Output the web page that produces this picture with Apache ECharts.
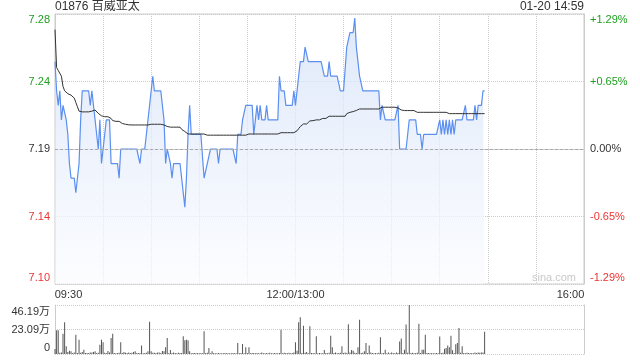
<!DOCTYPE html>
<html><head><meta charset="utf-8">
<script src="https://cdn.jsdelivr.net/npm/echarts@6/dist/echarts.min.js"></script>
<style>html,body{margin:0;padding:0;background:#fff}#c{width:640px;height:360px}</style>
</head><body><div id="c"></div>
<script>
// ---- data ----
const prevClose = 7.19;
const priceTicks = ['7.10', '7.14', '7.19', '7.24', '7.28'];
const pctTicks = ['-1.29%', '-0.65%', '0.00%', '+0.65%', '+1.29%'];
const volTicks = ['0', '23.09万', '46.19万'];
const timeTickPos = [0, 150, 330];
const timeTickLabels = ['09:30', '12:00/13:00', '16:00'];
const titleText = '01876 百威亚太';
const timeStamp = '01-20 14:59';

// minute-by-minute last price (09:30 ... 14:59)
const price = [
7.25,7.23,7.22,7.23,7.21,7.22,7.22,7.21,7.20,7.18,
7.17,7.17,7.17,7.16,7.16,7.18,7.21,7.23,7.23,7.23,
7.23,7.23,7.22,7.23,7.22,7.21,7.20,7.19,7.21,7.18,
7.19,7.20,7.21,7.21,7.21,7.18,7.18,7.18,7.18,7.18,
7.17,7.19,7.19,7.19,7.19,7.19,7.19,7.19,7.19,7.19,
7.19,7.19,7.19,7.18,7.19,7.19,7.19,7.20,7.20,7.22,
7.23,7.24,7.23,7.23,7.23,7.23,7.23,7.22,7.21,7.18,
7.19,7.19,7.18,7.17,7.18,7.18,7.18,7.18,7.18,7.17,
7.16,7.15,7.17,7.20,7.22,7.20,7.20,7.20,7.20,7.20,
7.20,7.20,7.20,7.17,7.17,7.18,7.18,7.19,7.19,7.19,
7.19,7.19,7.18,7.19,7.19,7.19,7.19,7.19,7.19,7.19,
7.19,7.19,7.19,7.18,7.20,7.20,7.20,7.21,7.21,7.22,
7.22,7.22,7.22,7.22,7.20,7.21,7.22,7.21,7.22,7.21,
7.21,7.21,7.22,7.21,7.21,7.21,7.21,7.21,7.21,7.21,
7.24,7.23,7.23,7.23,7.22,7.22,7.22,7.22,7.22,7.23,
7.22,7.22,7.24,7.25,7.25,7.25,7.26,7.26,7.25,7.25,
7.25,7.25,7.25,7.25,7.25,7.25,7.25,7.25,7.24,7.24,
7.24,7.25,7.24,7.24,7.24,7.24,7.24,7.24,7.23,7.23,
7.23,7.23,7.26,7.26,7.27,7.27,7.27,7.28,7.26,7.25,
7.24,7.24,7.23,7.23,7.23,7.23,7.23,7.23,7.23,7.23,
7.23,7.23,7.23,7.21,7.22,7.22,7.21,7.21,7.21,7.21,
7.21,7.21,7.21,7.21,7.22,7.19,7.19,7.19,7.19,7.19,
7.20,7.21,7.21,7.21,7.21,7.21,7.20,7.20,7.20,7.19,
7.20,7.20,7.20,7.20,7.20,7.20,7.20,7.20,7.20,7.20,
7.21,7.20,7.21,7.20,7.21,7.20,7.21,7.20,7.21,7.20,
7.21,7.21,7.21,7.21,7.21,7.21,7.22,7.21,7.21,7.21,
7.21,7.21,7.22,7.21,7.22,7.22,7.22,7.23,7.23
];

// minute-by-minute average price
const avgPrice = [
7.272,7.246,7.244,7.243,7.240,7.233,7.230,7.229,7.228,7.227,
7.227,7.226,7.225,7.222,7.219,7.216,7.2155,7.2155,7.2155,7.2155,
7.2155,7.2155,7.2155,7.216,7.2165,7.2168,7.216,7.2145,7.2134,7.2128,
7.2122,7.2122,7.2122,7.2122,7.2122,7.211,7.2095,7.209,7.209,7.209,
7.209,7.208,7.2075,7.207,7.207,7.2068,7.2066,7.2065,7.2065,7.2065,
7.2065,7.2065,7.2065,7.2065,7.2065,7.2065,7.2065,7.2065,7.2065,7.207,
7.207,7.207,7.207,7.207,7.207,7.207,7.207,7.207,7.2065,7.206,
7.2055,7.205,7.205,7.205,7.205,7.205,7.205,7.205,7.205,7.2035,
7.203,7.202,7.2008,7.2003,7.2003,7.2003,7.2003,7.2003,7.2003,7.2003,
7.2003,7.2003,7.2003,7.2003,7.1995,7.1995,7.1995,7.1995,7.1995,7.1995,
7.1995,7.1995,7.1995,7.1995,7.1995,7.1995,7.1995,7.1995,7.1995,7.1995,
7.1995,7.1995,7.1995,7.1995,7.1995,7.1995,7.1995,7.1995,7.1995,7.1995,
7.1995,7.2003,7.2003,7.2003,7.2003,7.2003,7.2003,7.2003,7.2003,7.2003,
7.2003,7.2003,7.2003,7.2003,7.2003,7.2003,7.2003,7.2003,7.2003,7.2003,
7.2012,7.2012,7.2012,7.2012,7.2012,7.2012,7.2012,7.2012,7.2012,7.2012,
7.2012,7.2025,7.204,7.2054,7.2065,7.2072,7.2072,7.2072,7.2072,7.2093,
7.2095,7.2095,7.210,7.210,7.210,7.210,7.210,7.211,7.211,7.211,
7.2118,7.2125,7.2125,7.2125,7.2125,7.2125,7.2125,7.2125,7.2125,7.2125,
7.2125,7.2125,7.2143,7.2148,7.2152,7.2155,7.2157,7.2158,7.2165,7.217,
7.2175,7.2175,7.2175,7.2175,7.2175,7.2175,7.2175,7.2175,7.2175,7.2175,
7.2175,7.2175,7.2175,7.2187,7.2187,7.2187,7.2187,7.2187,7.2187,7.2187,
7.2187,7.2187,7.2187,7.2187,7.2182,7.2173,7.2168,7.2164,7.2164,7.2164,
7.2164,7.2164,7.2164,7.2164,7.2164,7.2164,7.2152,7.2152,7.2152,7.2152,
7.2152,7.2152,7.2152,7.2152,7.2152,7.2152,7.2152,7.2152,7.2152,7.2152,
7.2152,7.2152,7.2152,7.2152,7.2152,7.2143,7.2143,7.2143,7.2143,7.2143,
7.2143,7.2143,7.2143,7.2143,7.2143,7.2143,7.2143,7.2143,7.2143,7.2143,
7.2143,7.2143,7.2143,7.2143,7.2143,7.2143,7.2143,7.2143,7.2143
];

// minute-by-minute volume, in 万 shares
const volume = [
4.7,22.3,22.3,1.2,1.5,19.2,29.9,7.2,1.8,3.0,
2.5,1.0,1.5,18.2,1.0,13.5,1.2,2.0,4.1,1.0,
1.0,1.0,1.4,1.5,1.8,2.5,1.0,1.2,8.8,13.5,
11.0,1.2,1.0,2.8,1.5,15.1,19.2,1.0,0.8,1.0,
1.2,11.0,1.0,2.0,1.2,1.0,1.5,1.0,1.2,1.8,
2.5,1.0,1.0,1.0,7.9,0.8,1.0,1.2,2.5,30.5,
2.5,1.2,1.2,1.0,1.5,1.5,1.0,2.8,2.5,6.3,
15.1,1.0,3.8,1.0,1.5,1.0,0.8,1.2,1.0,1.0,
16.7,12.9,13.5,12.9,2.5,0.8,1.0,1.0,0.8,1.0,
0.8,1.0,0.8,21.4,1.0,1.2,5.7,0.8,2.5,1.0,
0.8,0.6,1.0,0.8,0.6,0.8,1.0,0.6,0.8,0.6,
0.8,1.0,0.6,0.8,10.4,0.8,1.0,9.4,0.8,6.3,
1.0,6.3,0.8,1.0,1.0,0.8,1.0,0.6,0.8,1.5,
0.8,0.6,1.0,0.8,1.2,0.6,0.8,1.0,0.6,0.8,
1.0,22.9,0.8,1.2,1.0,0.8,1.2,0.6,1.0,1.5,
11.0,3.0,29.9,34.6,1.0,26.7,1.2,2.0,0.8,26.1,
1.0,1.0,0.8,16.7,0.8,1.0,0.6,0.8,3.8,1.0,
0.8,1.2,17.3,6.3,1.0,1.5,0.8,1.0,1.2,7.2,
1.0,1.5,1.0,28.0,1.5,3.8,3.1,1.2,1.0,6.3,
32.4,1.0,1.2,2.5,10.4,1.0,7.9,1.5,1.0,0.8,
1.0,0.8,1.2,15.7,0.8,1.0,4.1,0.8,1.5,0.8,
1.5,1.0,0.8,1.5,1.0,11.9,14.5,1.0,4.1,27.7,
1.2,46.19,1.0,1.2,0.8,1.0,1.2,28.6,1.0,4.1,
4.1,18.2,1.0,1.0,0.8,1.0,0.6,0.8,1.0,0.8,
16.4,1.0,1.2,5.0,5.7,7.9,6.3,17.3,3.5,1.0,
9.1,10.4,24.5,1.2,7.2,1.0,0.8,1.2,1.0,0.8,
1.0,0.8,1.5,1.0,1.5,1.2,1.5,1.5,21.0
];

// ---- chart ----
const FONT = '"Liberation Sans", Arial, "Noto Sans CJK SC", sans-serif';
const GREEN = '#1f9e1f', RED = '#ee3333', DARK = '#333';
const PCT_MAX = 1.29, PCT_INT = 0.645;
const VOL_MAX = 46.19, VOL_INT = 23.095;
const toPct = p => (p / prevClose - 1) * 100;
const pctIdx = v => Math.round((v + PCT_MAX) / PCT_INT);
const styleKey = ['rb', 'r', 'k', 'g', 'gt'];

const rich = {
  gt: { color: GREEN, padding: [12, 0, 0, 0], fontSize: 11, fontFamily: FONT },
  g: { color: GREEN, fontSize: 11, fontFamily: FONT },
  k: { color: DARK, fontSize: 11, fontFamily: FONT },
  r: { color: RED, fontSize: 11, fontFamily: FONT },
  rb: { color: RED, padding: [0, 0, 12, 0], fontSize: 11, fontFamily: FONT },
  vt: { color: DARK, padding: [13, 0, 0, 0], fontSize: 11, fontFamily: FONT },
  vm: { color: DARK, fontSize: 11, fontFamily: FONT },
  vb: { color: DARK, padding: [0, 0, 12, 0], fontSize: 11, fontFamily: FONT },
  tl: { color: DARK, padding: [0, 0, 0, 27], fontSize: 11, fontFamily: FONT },
  tc: { color: DARK, fontSize: 11, fontFamily: FONT },
  tr: { color: DARK, padding: [0, 27, 0, 0], fontSize: 11, fontFamily: FONT }
};

const chart = echarts.init(document.getElementById('c'), null, { renderer: 'canvas' });
chart.setOption({
  animation: false,
  backgroundColor: '#fff',
  textStyle: { fontFamily: FONT },
  title: [
    { text: titleText, left: 55, top: 1, padding: 0,
      textStyle: { fontSize: 12, fontWeight: 'normal', color: DARK, fontFamily: FONT } },
    { text: timeStamp, right: 56, top: 1, padding: 0,
      textStyle: { fontSize: 12, fontWeight: 'normal', color: DARK, fontFamily: FONT } }
  ],
  graphic: [
    { type: 'text', left: 532, top: 272, silent: true,
      style: { text: 'sina.com', fill: '#c8c8c8', font: '11px ' + FONT } }
  ],
  grid: [
    { left: 55, right: 56, top: 14, height: 270, show: true, borderColor: '#ccc', borderWidth: 1 },
    { left: 55, right: 56, top: 305, height: 49 }
  ],
  xAxis: [
    { type: 'value', gridIndex: 0, min: 0, max: 330, interval: 30,
      axisLine: { show: true, lineStyle: { color: '#ccc' } },
      axisTick: { show: false },
      splitLine: { show: true, lineStyle: { color: '#ccc', type: 'dotted' } },
      axisLabel: { margin: 5, rich: rich,
        formatter: v => {
          const i = timeTickPos.indexOf(Math.round(v));
          if (i < 0) return '';
          return '{' + ['tl', 'tc', 'tr'][i] + '|' + timeTickLabels[i] + '}';
        } } },
    { type: 'value', gridIndex: 1, min: 0, max: 330, interval: 30,
      axisLine: { show: false }, axisTick: { show: false },
      splitLine: { show: false }, axisLabel: { show: false } }
  ],
  yAxis: [
    { type: 'value', gridIndex: 0, position: 'left', min: -PCT_MAX, max: PCT_MAX, interval: PCT_INT,
      axisLine: { show: true, lineStyle: { color: '#ccc' } }, axisTick: { show: false },
      splitLine: { show: true, lineStyle: { color: '#ccc', type: 'dotted' } },
      axisLabel: { margin: 5, rich: rich,
        formatter: v => { const i = pctIdx(v); return '{' + styleKey[i] + '|' + priceTicks[i] + '}'; } } },
    { type: 'value', gridIndex: 0, position: 'right', min: -PCT_MAX, max: PCT_MAX, interval: PCT_INT,
      axisLine: { show: true, lineStyle: { color: '#ccc' } }, axisTick: { show: false },
      splitLine: { show: false },
      axisLabel: { margin: 6, rich: rich,
        formatter: v => { const i = pctIdx(v); return '{' + styleKey[i] + '|' + pctTicks[i] + '}'; } } },
    { type: 'value', gridIndex: 1, position: 'left', min: 0, max: VOL_MAX, interval: VOL_INT,
      axisLine: { show: true, lineStyle: { color: '#ccc' } }, axisTick: { show: false },
      splitLine: { show: true, lineStyle: { color: '#ccc', type: 'dotted' } },
      axisLabel: { margin: 5, rich: rich,
        formatter: v => { const i = Math.round(v / VOL_INT); return '{' + ['vb', 'vm', 'vt'][i] + '|' + volTicks[i] + '}'; } } },
    { type: 'value', gridIndex: 1, position: 'right', min: 0, max: VOL_MAX, interval: VOL_INT,
      axisLine: { show: true, lineStyle: { color: '#ccc' } }, axisTick: { show: false },
      splitLine: { show: false }, axisLabel: { show: false } }
  ],
  series: [
    { name: 'price', type: 'line', xAxisIndex: 0, yAxisIndex: 0,
      data: price.map((p, i) => [i, toPct(p)]),
      showSymbol: false, symbol: 'none', silent: true,
      lineStyle: { color: '#5b8ff0', width: 1.2 },
      areaStyle: { origin: 'start',
        color: new echarts.graphic.LinearGradient(0, 0, 0, 1, [
          { offset: 0, color: '#d2e0f8' }, { offset: 1, color: '#fbfcff' }]) },
      markLine: { silent: true, symbol: 'none', label: { show: false },
        lineStyle: { color: '#aaa', type: [3, 2], width: 1 },
        data: [{ yAxis: 0 }] },
      z: 2 },
    { name: 'avg', type: 'line', xAxisIndex: 0, yAxisIndex: 0,
      data: avgPrice.map((p, i) => [i, toPct(p)]),
      showSymbol: false, symbol: 'none', silent: true,
      lineStyle: { color: '#333', width: 1 }, z: 3 },
    { name: 'volume', type: 'bar', xAxisIndex: 1, yAxisIndex: 2,
      data: volume.map((v, i) => [i, v]),
      barWidth: 1, silent: true,
      itemStyle: { color: '#555' } }
  ]
});
</script></body></html>
